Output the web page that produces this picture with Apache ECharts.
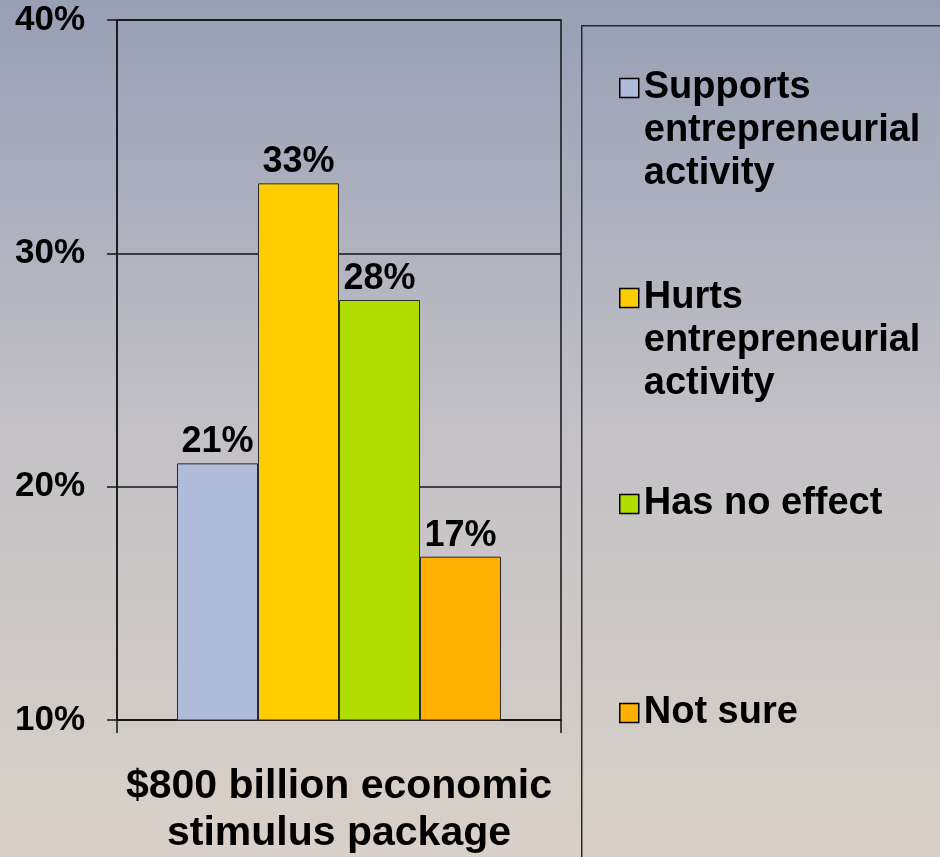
<!DOCTYPE html>
<html>
<head>
<meta charset="utf-8">
<title>Stimulus package and entrepreneurial activity</title>
<script src="https://cdn.jsdelivr.net/npm/echarts@6/dist/echarts.min.js"></script>
<style>
  html, body { margin: 0; padding: 0; }
  #chart { width: 940px; height: 857px; }
</style>
</head>
<body>
<div id="chart"></div>
<script>
// Survey responses on the stimulus package
var categories = ['$800 billion economic\nstimulus package'];
var seriesNames = [
  'Supports entrepreneurial activity',
  'Hurts entrepreneurial activity',
  'Has no effect',
  'Not sure'
];
var legendLabels = [
  'Supports\nentrepreneurial\nactivity',
  'Hurts\nentrepreneurial\nactivity',
  'Has no effect',
  'Not sure'
];
var seriesValues = [21, 33, 28, 17];
var seriesColors = ['#afbbd8', '#ffcc00', '#b0dc00', '#ffb000'];
var yTicks = [10, 20, 30, 40];

var FONT = '"Liberation Sans", Arial, sans-serif';
var LINE_H = 43;

var chart = echarts.init(document.getElementById('chart'), null, { renderer: 'canvas' });

var series = seriesNames.map(function (name, i) {
  return {
    name: name,
    type: 'bar',
    data: [seriesValues[i]],
    barWidth: 81,
    barGap: '0%',
    itemStyle: { color: seriesColors[i], borderColor: '#2a2a2a', borderWidth: 1 },
    label: {
      show: true,
      position: 'top',
      distance: 3,
      formatter: '{c}%',
      fontFamily: FONT,
      fontWeight: 'bold',
      fontSize: 36,
      color: '#000'
    },
    emphasis: { disabled: true }
  };
});

// Legend text is centred on its marker, so multi-line entries get blank
// lines on top to keep the marker level with the first line of text.
function legendText(label) {
  var lines = label.split('\n');
  var pad = '';
  for (var k = 1; k < lines.length; k++) pad += '\n';
  return pad + label;
}

// One legend block per entry so each sits at its own height in the key panel
var markerCentres = [88, 298, 504, 713];
var legends = seriesNames.map(function (name, i) {
  var lines = legendLabels[i].split('\n').length;
  var blockH = (2 * lines - 1) * LINE_H;
  return {
    data: [name],
    orient: 'vertical',
    left: 619,
    top: markerCentres[i] - blockH / 2,
    padding: 0,
    icon: 'rect',
    itemWidth: 19,
    itemHeight: 19,
    itemGap: 0,
    selectedMode: false,
    itemStyle: { borderColor: '#000', borderWidth: 1.5 },
    formatter: function () { return legendText(legendLabels[i]); },
    textStyle: {
      fontFamily: FONT,
      fontWeight: 'bold',
      fontSize: 38,
      lineHeight: LINE_H,
      color: '#000'
    }
  };
});

var option = {
  backgroundColor: {
    type: 'linear', x: 0, y: 0, x2: 0, y2: 1,
    colorStops: [
      { offset: 0, color: '#989fb5' },
      { offset: 0.5, color: '#c3c1c6' },
      { offset: 1, color: '#d9d1c8' }
    ]
  },
  animation: false,
  grid: {
    left: 117, top: 20, right: 379, bottom: 135,
    show: true, borderColor: '#141414', borderWidth: 1.5,
    backgroundColor: 'transparent'
  },
  legend: legends,
  xAxis: {
    type: 'category',
    data: categories,
    axisLine: { show: true, lineStyle: { color: '#141414', width: 1.5 } },
    axisTick: { show: true, length: 13, lineStyle: { color: '#141414', width: 1.5 } },
    axisLabel: {
      margin: 43,
      fontFamily: FONT,
      fontWeight: 'bold',
      fontSize: 41,
      lineHeight: 47,
      color: '#000',
      align: 'center'
    }
  },
  yAxis: {
    type: 'value',
    min: 10,
    max: 40,
    interval: 10,
    axisLine: { show: true, lineStyle: { color: '#141414', width: 1.5 } },
    axisTick: { show: true, length: 10, lineStyle: { color: '#141414', width: 1.5 } },
    splitLine: { show: true, lineStyle: { color: '#141414', width: 1.5 } },
    axisLabel: {
      margin: 32,
      padding: [5, 0, 0, 0],
      fontFamily: FONT,
      fontWeight: 'bold',
      fontSize: 35,
      color: '#000',
      formatter: function (v) { return yTicks.indexOf(v) >= 0 ? v + '%' : ''; }
    }
  },
  graphic: [{
    type: 'rect',
    left: 581, top: 25,
    shape: { width: 400, height: 900 },
    style: { fill: 'transparent', stroke: '#2a2a2a', lineWidth: 1.5 },
    silent: true,
    z: -1
  }],
  series: series
};

chart.setOption(option);
</script>
</body>
</html>
